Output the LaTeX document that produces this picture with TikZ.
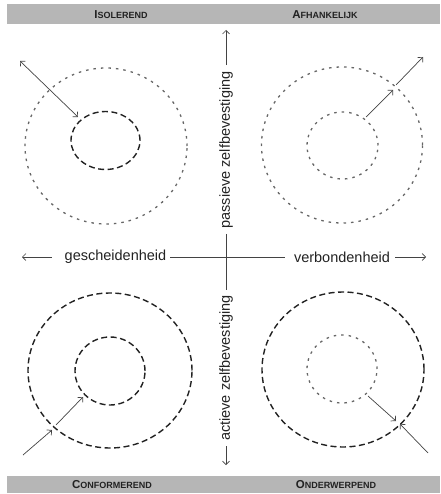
\documentclass[tikz,border=0pt]{standalone}
\usepackage{fontspec}
\setmainfont{Liberation Sans}
\usetikzlibrary{arrows.meta}
\definecolor{barg}{HTML}{B6B6B6}
\definecolor{ink}{HTML}{222222}
\definecolor{dotg}{HTML}{666666}
\begin{document}
\begin{tikzpicture}[x=1pt,y=-1pt,
  dotc/.style={draw=dotg,line width=1.3pt,dash pattern=on 2.5pt off 5pt},
  dashc/.style={draw=ink,line width=1.4pt,dash pattern=on 6pt off 3.5pt},
  arr/.style={draw=ink!85,line width=0.7pt,-{Straight Barb[length=3.5pt,width=7pt]}},
  axis/.style={draw=ink!85,line width=0.7pt},
  axtip/.style={axis,-{Straight Barb[length=3.5pt,width=7pt]}},
  lab/.style={font=\fontsize{14.5}{16}\selectfont,text=ink,inner sep=0pt},
  head/.style={font=\bfseries,text=ink,inner sep=0pt}
]
\useasboundingbox (0,0) rectangle (440,494);
% header bars
\fill[barg] (7,4) rectangle (440,24);
\fill[barg] (7,476) rectangle (440,493);
\newcommand{\fsc}[2]{{\fontsize{11.5}{12}\selectfont #1}{\fontsize{9}{12}\selectfont #2}}
\node[head] (hiso) at (121,14.5) {\fsc{I}{SOLEREND}};
\node[head] (hafh) at (325,14.5) {\fsc{A}{FHANKELIJK}};
\node[head] (hcon) at (112,484.5) {\fsc{C}{ONFORMEREND}};
\node[head] (hond) at (336,484.5) {\fsc{O}{NDERWERPEND}};

% axes
\node[lab] (gesch) at (115.5,257) {gescheidenheid};
\node[lab] (verb) at (342,257) {verbondenheid};
\coordinate (L) at (22,257);
\coordinate (R) at (426,257);
\draw[axtip,shorten <=13pt] (gesch.west) -- (L);
\draw[axis,shorten <=4pt,shorten >=9pt] (gesch.east) -- (verb.west);
\draw[axtip,shorten <=5pt] (verb.east) -- (R);

\node[lab,rotate=90] (pas) at (226,150) {passieve zelfbevestiging};
\node[lab,rotate=90] (act) at (226,368) {actieve zelfbevestiging};
\coordinate (T) at (226,30);
\coordinate (B) at (226,465);
\draw[axtip,shorten <=6pt] (pas.east) -- (T);
\draw[axis,shorten <=5pt,shorten >=5pt] (pas.west) -- (act.east);
\draw[axtip,shorten <=5pt] (act.west) -- (B);

% top-left: isolerend
\draw[dotc] (106,146) ellipse [x radius=81pt, y radius=78pt];
\draw[dashc] (105.5,140.5) ellipse [x radius=34.5pt, y radius=29pt];
\coordinate (a1) at (20,61);
\coordinate (a2) at (78,117);
\draw[arr,{Straight Barb[length=3.5pt,width=7pt]}-{Straight Barb[length=3.5pt,width=7pt]}] (a1) -- (a2);

% top-right: afhankelijk
\draw[dotc] (342,145) ellipse [x radius=80.5pt, y radius=78pt];
\draw[dotc] (342.5,145.5) ellipse [x radius=35.5pt, y radius=33.5pt];
\coordinate (b1) at (366,117);
\coordinate (b2) at (393,90);
\coordinate (b3) at (396,85);
\coordinate (b4) at (423,57);
\draw[arr] (b1) -- (b2);
\draw[arr] (b3) -- (b4);

% bottom-left: conformerend
\draw[dashc] (110,370.5) ellipse [x radius=82pt, y radius=77.5pt];
\draw[dashc] (110,371) ellipse [x radius=35pt, y radius=34pt];
\coordinate (c1) at (23,455);
\coordinate (c2) at (52,430);
\coordinate (c3) at (56,425);
\coordinate (c4) at (83,397);
\draw[arr] (c1) -- (c2);
\draw[arr] (c3) -- (c4);

% bottom-right: onderwerpend
\draw[dashc] (343,369.5) ellipse [x radius=81pt, y radius=77.5pt];
\draw[dotc] (342,369) ellipse [x radius=35pt, y radius=34pt];
\coordinate (d1) at (368,396);
\coordinate (d2) at (396,421);
\coordinate (d3) at (428,453);
\coordinate (d4) at (400,424);
\draw[arr] (d1) -- (d2);
\draw[arr] (d3) -- (d4);
\end{tikzpicture}
\end{document}
